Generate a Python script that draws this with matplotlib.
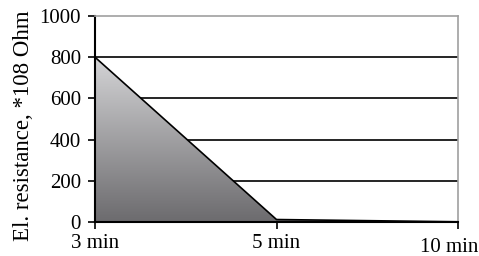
import numpy as np
import matplotlib
matplotlib.use("Agg")
import matplotlib.pyplot as plt
from matplotlib.patches import Polygon
from matplotlib.colors import LinearSegmentedColormap
from matplotlib.transforms import ScaledTranslation

categories = ["3 min", "5 min", "10 min"]
resistance = [800, 12, 1]
yticks = [0, 200, 400, 600, 800, 1000]

plt.rcParams['font.family'] = ['Liberation Serif', 'DejaVu Serif']

fig = plt.figure(figsize=(4.79, 2.56), dpi=100)
ax = fig.add_axes([95/479, 1-222/256, (458-95)/479, (222-16)/256])

x = np.arange(len(categories))
ax.set_xlim(0, len(categories)-1)
ax.set_ylim(0, 1000)

verts = [(x[0], 0)] + list(zip(x, resistance)) + [(x[-1], 0)]
poly = Polygon(verts, closed=True, facecolor='none', edgecolor='none')
ax.add_patch(poly)
cmap = LinearSegmentedColormap.from_list('g', ['#6c6b6e', '#d4d4d6'])
grad = np.linspace(0, 1, 256).reshape(-1, 1)
im = ax.imshow(grad, aspect='auto', cmap=cmap, origin='lower',
               extent=[x[0], x[-1], 0, max(resistance)], zorder=1)
im.set_clip_path(poly)

for yv in yticks[1:-1]:
    ax.axhline(yv, color='black', lw=1.2, zorder=0.5)

ax.plot(x, resistance, color='black', lw=1.2, zorder=3)

ax.set_xticks(x)
ax.set_xticklabels(categories)
ax.set_yticks(yticks)
ax.tick_params(axis='both', labelsize=15, direction='out', length=5, width=1.2, colors='black')
ax.tick_params(axis='y', pad=5)
ax.tick_params(axis='x', pad=4)
labels = ax.get_xticklabels()
labels[-1].set_horizontalalignment('right')
labels[-1].set_transform(labels[-1].get_transform() + ScaledTranslation(20/100, -4/100, fig.dpi_scale_trans))
ax.set_ylabel("El. resistance, *108 Ohm", fontsize=16.5)
ax.yaxis.set_label_coords(-0.168, 0.466)

for s in ['top', 'right']:
    ax.spines[s].set_color('#a0a0a0')
    ax.spines[s].set_linewidth(1.2)
for s in ['left', 'bottom']:
    ax.spines[s].set_color('black')
    ax.spines[s].set_linewidth(1.5)

fig.savefig("out.png", dpi=100)
